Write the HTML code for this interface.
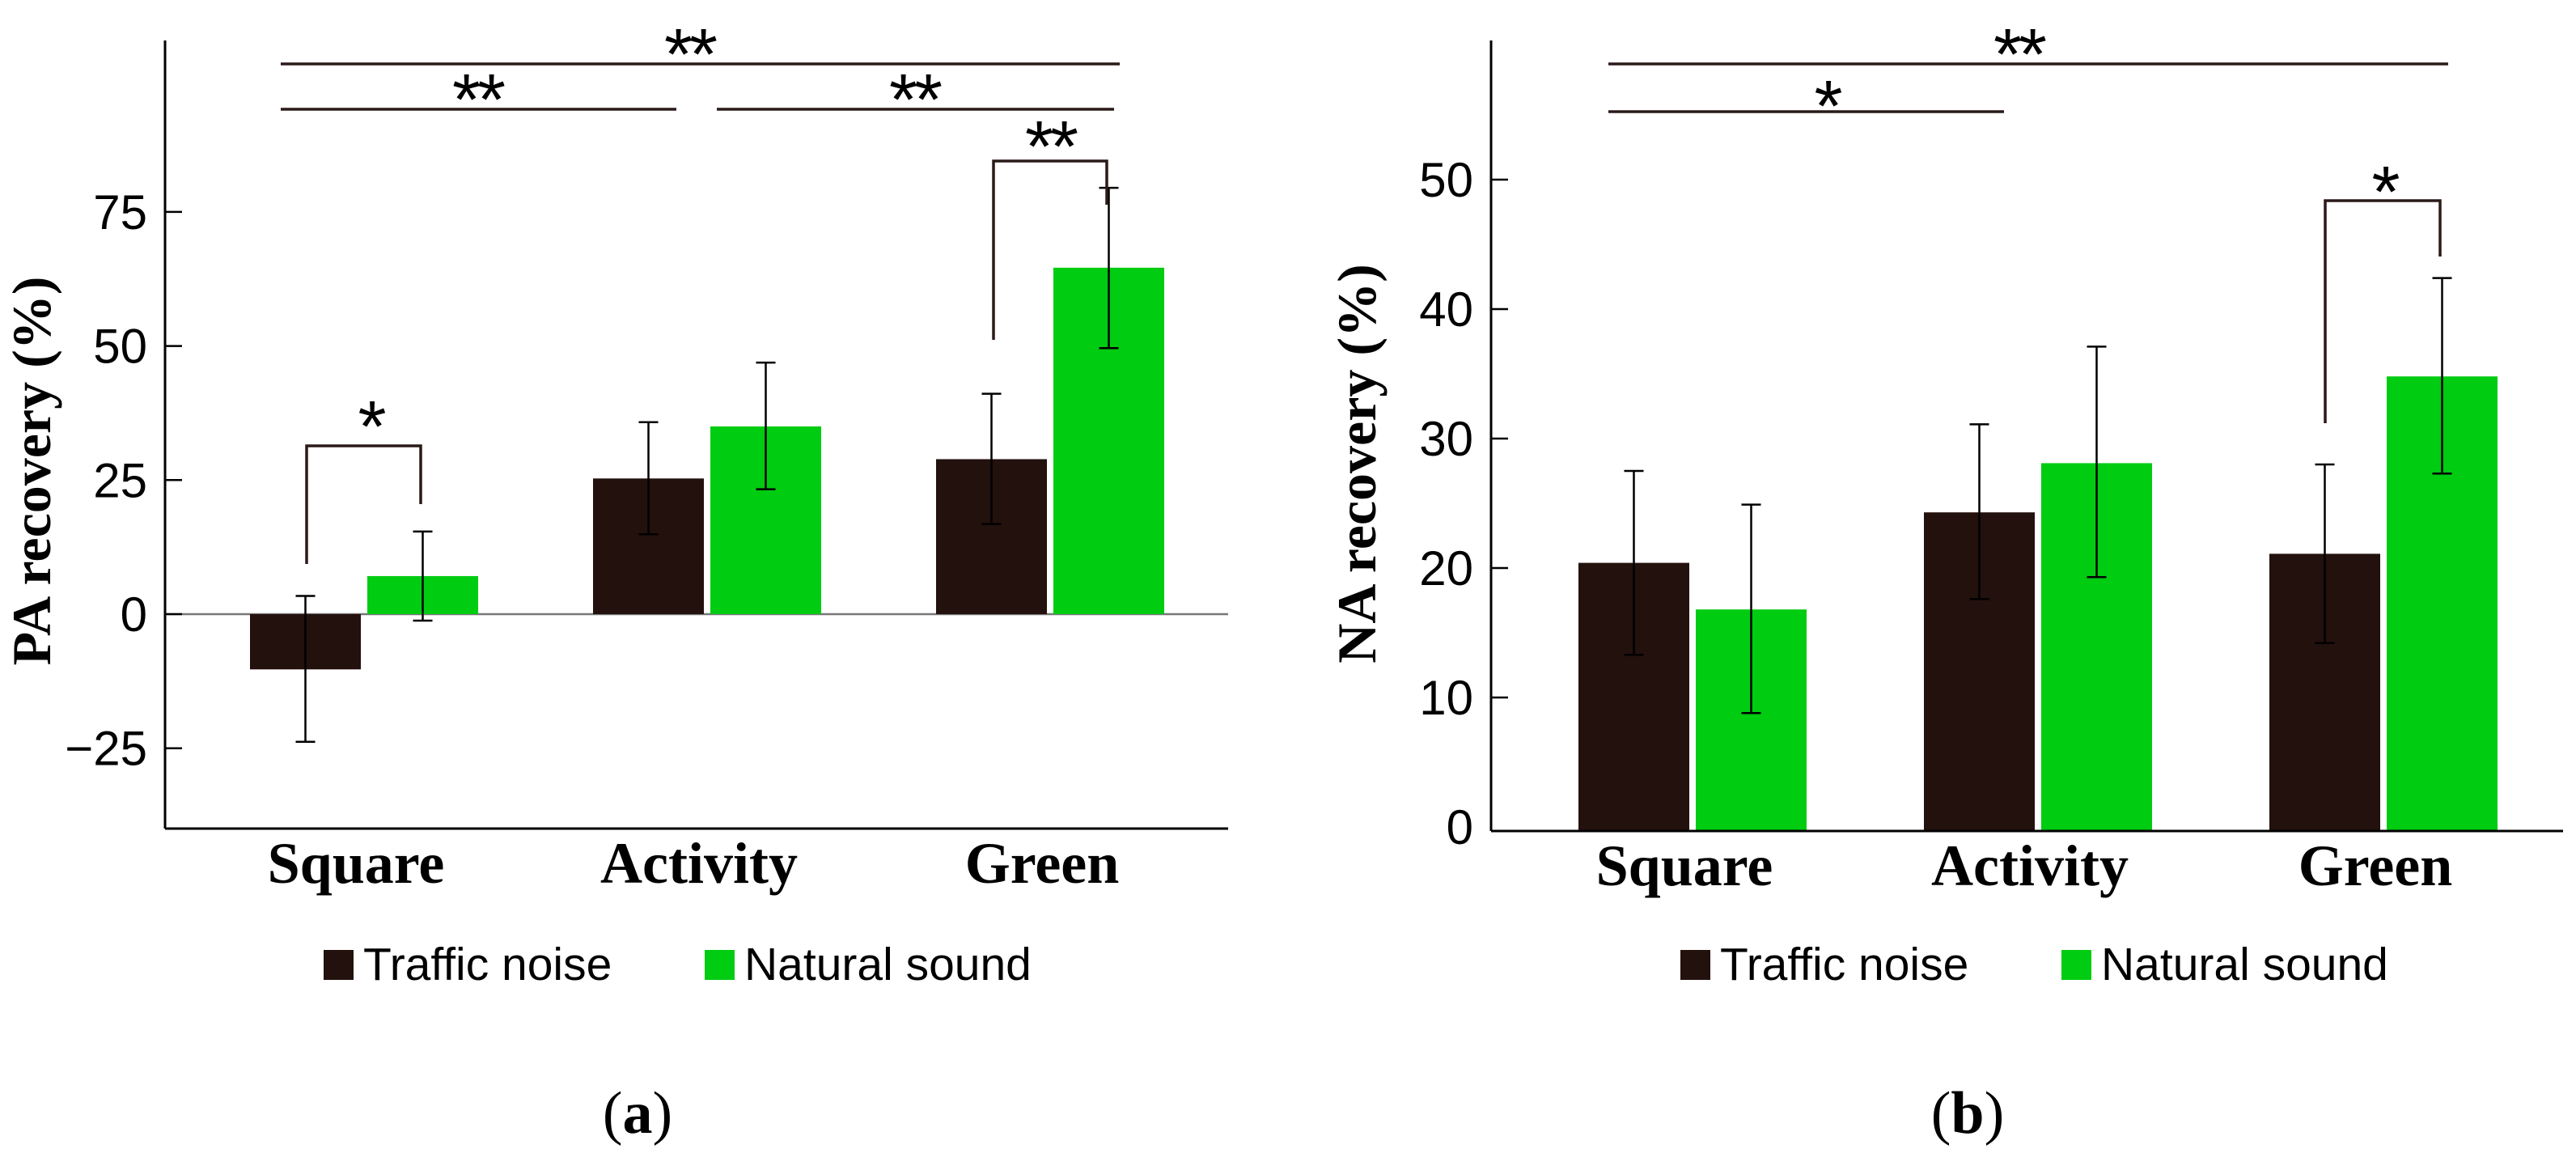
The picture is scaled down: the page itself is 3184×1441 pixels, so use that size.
<!DOCTYPE html>
<html><head><meta charset="utf-8"><style>
html,body{margin:0;padding:0;background:#fff;}
svg{display:block;}
</style></head><body>
<svg id="fig" width="3184" height="1441" viewBox="0 0 3184 1441" xmlns="http://www.w3.org/2000/svg">
<g id="pa"></g>
<g id="na"></g>
</svg>
<script>
const categories = ["Square", "Activity", "Green"];
const paTraffic = [-10.3, 25.3, 28.9];
const paTrafficHi = [3.4, 35.8, 41.1];
const paTrafficLo = [-23.8, 14.9, 16.8];
const paNatural = [7.1, 35.0, 64.6];
const paNaturalHi = [15.4, 46.9, 79.5];
const paNaturalLo = [-1.2, 23.3, 49.6];
const paTicks = [-25, 0, 25, 50, 75];
const naTraffic = [20.4, 24.3, 21.1];
const naTrafficHi = [27.5, 31.1, 28.0];
const naTrafficLo = [13.3, 17.6, 14.2];
const naNatural = [16.8, 28.1, 34.8];
const naNaturalHi = [24.9, 37.1, 42.4];
const naNaturalLo = [8.8, 19.3, 27.3];
const naTicks = [0, 10, 20, 30, 40, 50];
const seriesNames = ["Traffic noise", "Natural sound"];

const NS = "http://www.w3.org/2000/svg";
function mk(parent, tag, attrs, text){
  const e = document.createElementNS(NS, tag);
  for (const k in attrs) e.setAttribute(k, attrs[k]);
  if (text !== undefined) e.textContent = text;
  parent.appendChild(e);
  return e;
}
const DARK = "#23110e", GREEN = "#00cc11";

function drawChart(g, cfg){
  const y = v => cfg.y0 - v * cfg.ppu;
  let ax = mk(g, "line", {x1:cfg.ax, y1:cfg.top, x2:cfg.ax, y2:cfg.bottom, stroke:"#000", "stroke-width":3});
  
  
  let bx = mk(g, "line", {x1:cfg.ax, y1:cfg.bottom, x2:cfg.right, y2:cfg.bottom, stroke:"#000", "stroke-width":3});
  
  
  if (cfg.zeroLine){
    let zl = mk(g, "line", {x1:cfg.ax, y1:y(0), x2:cfg.right, y2:y(0), stroke:"#777", "stroke-width":2.5});
    
    
  }
  cfg.ticks.forEach(t => {
    if (!(cfg.noZeroTick && t === 0)) {
      let tl = mk(g, "line", {x1:cfg.ax, y1:y(t), x2:cfg.ax+21, y2:y(t), stroke:"#000", "stroke-width":2.5});
      
      
    }
    let tx = mk(g, "text", {x:cfg.ax-22, y:y(t)+21, "text-anchor":"end", "font-family":"Liberation Sans, sans-serif", "font-size":60}, t < 0 ? "\u2212" + Math.abs(t) : String(t));
    
    
  });
  let tt = mk(g, "text", {x:0, y:0, transform:`translate(${cfg.titleX},${cfg.titleY}) rotate(-90)`, "text-anchor":"middle", "font-family":"Liberation Serif, serif", "font-weight":"bold", "font-size":68}, cfg.title);
  
  
  const bw = 137, gap = 8;
  const base = cfg.bottom - 1.5;
  categories.forEach((c, i) => {
    const cx = cfg.c0 + i * cfg.step;
    const sets = [[cfg.t[i], cfg.th[i], cfg.tl[i], DARK, cx - gap/2 - bw], [cfg.n[i], cfg.nh[i], cfg.nl[i], GREEN, cx + gap/2]];
    sets.forEach((s, j) => {
      const [v, hi, lo, col, x] = s;
      const top = cfg.zeroLine ? Math.min(y(v), y(0)) : y(v);
      const h = cfg.zeroLine ? Math.abs(y(v) - y(0)) : base - y(v);
      let r = mk(g, "rect", {x:x, y:top, width:bw, height:h, fill:col});
      
      
      const ex = x + bw/2;
      let eb = mk(g, "path", {d:`M${ex},${y(hi)}V${y(lo)}M${ex-12},${y(hi)}H${ex+12}M${ex-12},${y(lo)}H${ex+12}`, stroke:"#000", "stroke-width":2.5, fill:"none"});
      
      
    });
    let cl = mk(g, "text", {x:cx - 10, y:cfg.bottom + 67, "text-anchor":"middle", "font-family":"Liberation Serif, serif", "font-weight":"bold", "font-size":72}, c);
    
    
  });
  cfg.sig.forEach(s => {
    let p = mk(g, "path", {d:s.d, stroke:"#2a1a18", "stroke-width":3.5, fill:"none"});
    
    
    let st = mk(g, "text", {x:s.tx, y:s.ty + 48, "text-anchor":"middle", "font-family":"Liberation Sans, sans-serif", "font-size":90, "letter-spacing":"-4"}, s.s);
    
    
  });
  cfg.legend.forEach((L, j) => {
    let sq = mk(g, "rect", {x:L.x, y:1174, width:37, height:37, fill:j ? GREEN : DARK});
    
    
    let lt = mk(g, "text", {x:L.x + 49, y:1211, "font-family":"Liberation Sans, sans-serif", "font-size":57}, seriesNames[j]);
    
    
  });
  let pl = mk(g, "text", {x:cfg.panelX, y:1400, "text-anchor":"middle", "font-family":"Liberation Serif, serif", "font-size":74}, "");
  
  
  mk(pl, "tspan", {}, "(");
  mk(pl, "tspan", {"font-weight":"bold"}, cfg.panel);
  mk(pl, "tspan", {}, ")");
}

drawChart(document.getElementById("pa"), {
  y0:759, ppu:165.7/25, ax:204, top:50, bottom:1024, right:1518, zeroLine:true,
  ticks:paTicks, title:"PA recovery (%)", titleX:62, titleY:582,
  c0:450, step:424,
  t:paTraffic, th:paTrafficHi, tl:paTrafficLo, n:paNatural, nh:paNaturalHi, nl:paNaturalLo,
  sig:[
    {d:"M347,79H1384", s:"**", tx:852, ty:50},
    {d:"M347,135H836", s:"**", tx:590, ty:106},
    {d:"M886,135H1377", s:"**", tx:1130, ty:106},
    {d:"M1228,420V199H1368V253", s:"**", tx:1298, ty:164},
    {d:"M379,697V551H520V623", s:"*", tx:458, ty:510}
  ],
  legend:[{x:400},{x:871}], panel:"a", panelX:788
});
drawChart(document.getElementById("na"), {
  y0:1022, ppu:16, ax:1843, top:50, bottom:1027, right:3168, zeroLine:false, noZeroTick:true,
  ticks:naTicks, title:"NA recovery (%)", titleX:1700, titleY:573,
  c0:2092, step:427,
  t:naTraffic, th:naTrafficHi, tl:naTrafficLo, n:naNatural, nh:naNaturalHi, nl:naNaturalLo,
  sig:[
    {d:"M1988,79H3026", s:"**", tx:2495, ty:50},
    {d:"M1988,138H2477", s:"*", tx:2258, ty:114},
    {d:"M2874,523V248H3016V317", s:"*", tx:2947, ty:220}
  ],
  legend:[{x:2077},{x:2548}], panel:"b", panelX:2432
});
</script>
</body></html>
